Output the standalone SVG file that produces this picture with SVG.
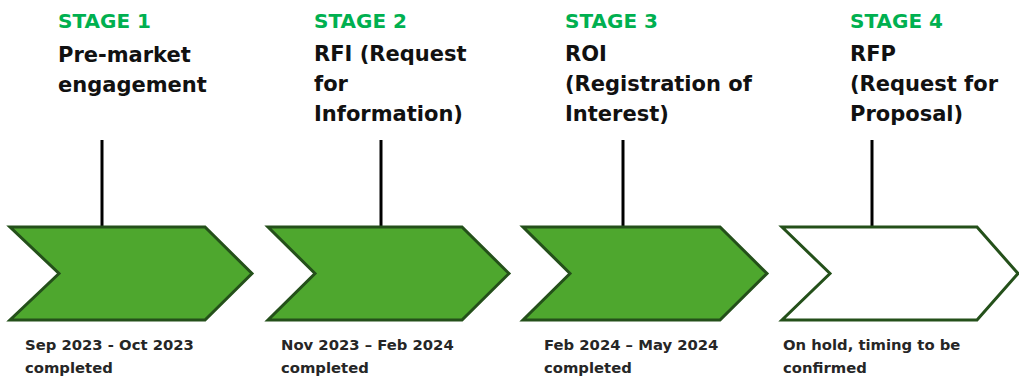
<svg xmlns="http://www.w3.org/2000/svg" width="1019" height="380" viewBox="0 0 1019 380">
<style>
.bg{fill:#ffffff}
.chev{fill:#4EA72E;stroke:#24501A;stroke-width:3;stroke-linejoin:miter}
.chev.open{fill:#ffffff}
.stem{stroke:#000000;stroke-width:3;fill:none}
.stage{font-family:"DejaVu Sans",sans-serif;font-weight:bold;font-size:20px;fill:#00B050}
.title{font-family:"DejaVu Sans",sans-serif;font-weight:bold;font-size:21px;fill:#111111}
.date{font-family:"DejaVu Sans",sans-serif;font-weight:bold;font-size:14.8px;fill:#262626}
</style>
<rect class="bg" x="0" y="0" width="1019" height="380"/>
<g id="connectors">
<line class="stem" x1="102" y1="140" x2="102" y2="227"/>
<line class="stem" x1="381" y1="140" x2="381" y2="227"/>
<line class="stem" x1="623" y1="140" x2="623" y2="227"/>
<line class="stem" x1="872" y1="140" x2="872" y2="227"/>
</g>
<g id="stage1">
<polygon class="chev" points="10,227 205,227 252,273.5 205,320 10,320 59,273.5"/>
<text class="stage" x="58" y="28">STAGE 1</text>
<text class="title" x="58" y="62">Pre-market</text>
<text class="title" x="58" y="92">engagement</text>
<text class="date" x="25" y="350">Sep 2023 - Oct 2023</text>
<text class="date" x="25" y="373">completed</text>
</g>
<g id="stage2">
<polygon class="chev" points="268,227 462,227 509,273.5 462,320 268,320 315,273.5"/>
<text class="stage" x="314" y="28">STAGE 2</text>
<text class="title" x="314" y="61">RFI (Request</text>
<text class="title" x="314" y="91">for</text>
<text class="title" x="314" y="121">Information)</text>
<text class="date" x="281" y="350">Nov 2023 – Feb 2024</text>
<text class="date" x="281" y="373">completed</text>
</g>
<g id="stage3">
<polygon class="chev" points="523,227 720,227 767,273.5 720,320 523,320 570,273.5"/>
<text class="stage" x="565" y="28">STAGE 3</text>
<text class="title" x="565" y="61">ROI</text>
<text class="title" x="565" y="91">(Registration of</text>
<text class="title" x="565" y="121">Interest)</text>
<text class="date" x="544" y="350">Feb 2024 – May 2024</text>
<text class="date" x="544" y="373">completed</text>
</g>
<g id="stage4">
<polygon class="chev open" points="782,227 977,227 1018,273.5 977,320 782,320 830,273.5"/>
<text class="stage" x="850" y="28">STAGE 4</text>
<text class="title" x="850" y="61">RFP</text>
<text class="title" x="850" y="91">(Request for</text>
<text class="title" x="850" y="121">Proposal)</text>
<text class="date" x="783" y="350">On hold, timing to be</text>
<text class="date" x="783" y="373">confirmed</text>
</g>
</svg>
